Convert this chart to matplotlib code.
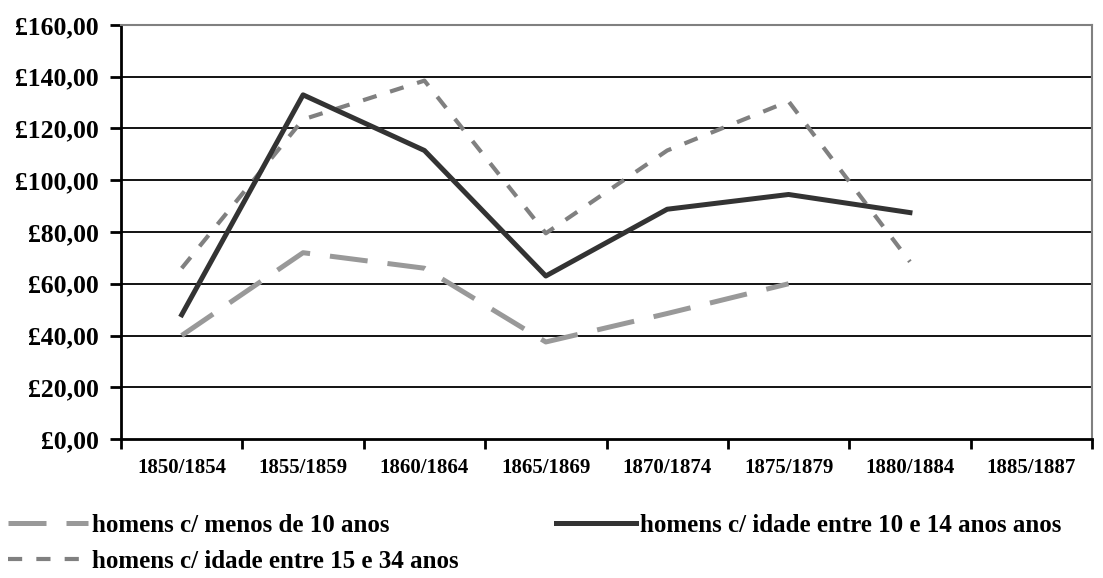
import numpy as np
import matplotlib
matplotlib.use("Agg")
import matplotlib.pyplot as plt

periods = ["1850/1854", "1855/1859", "1860/1864", "1865/1869",
           "1870/1874", "1875/1879", "1880/1884", "1885/1887"]
under_10 = [40.0, 72.0, 66.0, 37.5, 48.5, 60.0]
age_10_14 = [48.0, 133.0, 111.5, 63.0, 88.8, 94.5, 87.5]
age_15_34 = [66.0, 123.5, 138.5, 79.5, 111.5, 130.5, 68.5]
yticks = [0, 20, 40, 60, 80, 100, 120, 140, 160]

plt.rcParams['font.family'] = ['Liberation Serif', 'DejaVu Serif']
plt.rcParams['font.weight'] = 'bold'

fig = plt.figure(figsize=(11.03, 5.78), dpi=100)
ax = fig.add_axes([121 / 1103, 1 - 439 / 578, (1092 - 121) / 1103, (439 - 25) / 578])

x = np.arange(len(periods))

# grid lines
for v in yticks[1:-1]:
    ax.axhline(v, color='black', lw=1.3, zorder=1)

l1, = ax.plot(x[:len(under_10)], under_10, color='#999999', lw=3.6,
              linestyle=(0, (7.6, 4.0)), zorder=3,
              label='homens c/ menos de 10 anos')
l3, = ax.plot(x[:len(age_15_34)], age_15_34, color='#808080', lw=3.0,
              linestyle=(0, (3.4, 3.4)), zorder=3,
              label='homens c/ idade entre 15 e 34 anos')
l2, = ax.plot(x[:len(age_10_14)], age_10_14, color='#333333', lw=3.6,
              zorder=4, label='homens c/ idade entre 10 e 14 anos anos')

ax.set_xlim(-0.5, len(periods) - 0.5)
ax.set_ylim(0, 160)
ax.set_yticks(yticks)
ax.set_yticklabels(['£%d,00' % v for v in yticks], fontsize=18.5, fontweight='bold')
ax.set_xticks(x)
ax.set_xticklabels(periods, fontsize=15, fontweight='bold')
ax.set_xticks(np.arange(len(periods) + 1) - 0.5, minor=True)
ax.tick_params(axis='x', which='major', length=0, pad=14)
ax.tick_params(axis='x', which='minor', length=7, width=2, direction='out')
ax.tick_params(axis='y', length=8, width=2, pad=8)

ax.spines['left'].set_linewidth(2)
ax.spines['bottom'].set_linewidth(2)
ax.spines['top'].set_color('#808080')
ax.spines['top'].set_linewidth(1.5)
ax.spines['right'].set_color('#808080')
ax.spines['right'].set_linewidth(1.5)

fig.legend(handles=[l1, l3, l2], loc='upper left', ncol=2,
           bbox_to_anchor=(8 / 1103, 1 - 514 / 578), frameon=False,
           prop={'size': 18, 'weight': 'bold'}, handlelength=3.2,
           handletextpad=0.15, columnspacing=3.9, labelspacing=0.5,
           borderpad=0, borderaxespad=0)

fig.savefig('out.png', dpi=100)
